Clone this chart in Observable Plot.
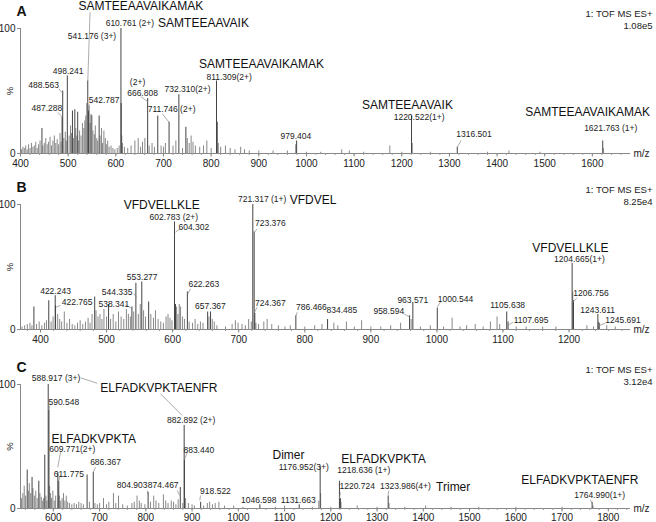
<!DOCTYPE html>
<html><head><meta charset="utf-8">
<script src="https://cdn.jsdelivr.net/npm/d3@7"></script>
<script src="https://cdn.jsdelivr.net/npm/@observablehq/plot@0.6"></script>
<style>
body{margin:0;background:#fff;}
#chart{width:656px;height:522px;position:relative;overflow:hidden;background:#fff}
#chart svg{display:block;overflow:visible}
</style></head><body><div id="chart"></div>
<script>
// ===== Panel A =====
const ticksA = [400,500,600,700,800,900,1000,1100,1200,1300,1400,1500,1600];
const peaksA = [[445,20],[487.288,29],[488.563,50],[498.241,62],[509,34],[514,35],[520,33],[541.176,58],[542.787,34],[548,31],[565,30],[610.761,100],[611.26,40],[666.808,44],[688,30],[711.746,25],[732.31,47],[747,21],[811.309,58],[812.8,25],[979.404,10],[1220.522,30],[1316.501,5],[1621.763,10]];
const minorA = [[402,3],[405,5],[408,4],[411,6],[414,3],[417,7],[420,4],[423,8],[426,5],[429,6],[432,9],[435,4],[438,7],[441,10],[447,6],[450,8],[453,12],[456,7],[459,9],[462,13],[465,6],[468,10],[471,14],[474,8],[477,11],[480,7],[483,16],[485,9],[491,12],[494,17],[496,10],[502,14],[505,22],[507,16],[511,12],[516,20],[518,14],[522,10],[524,18],[527,14],[530,24],[533,20],[535,26],[537,30],[539,40],[544,38],[546,24],[550,30],[552,18],[555,15],[557,22],[560,12],[562,10],[567,14],[570,20],[572,8],[575,18],[578,12],[580,7],[583,10],[586,5],[590,6],[594,4],[598,3],[603,4],[607,6],[612.5,14],[614,8],[618,5],[625,4],[632,6],[640,10],[647,12],[652,5],[656,9],[661,12],[670,6],[676,8],[681,5],[695,6],[700,5],[704,8],[720,6],[726,10],[740,4],[750,12],[754,8],[758,14],[762,9],[767,6],[776,5],[784,6],[791,10],[800,4],[815,8],[820,5],[830,6],[840,4],[850,3],[862,5],[870,3],[880,2],[900,2],[930,2],[960,2],[977.5,7],[1000,1],[1030,1],[1074,3],[1090,2],[1120,1],[1175,6],[1200,1],[1222,8],[1260,1],[1380,1],[1425,2],[1490,1],[1623,4]];
const peptideLabelsA = [["SAMTEEAAVAIKAMAK",652.6,117.6],["SAMTEEAAVAIK",784,104],["SAMTEEAAVAIKAMAK",905.8,71.7],["SAMTEEAAVAIK",1212,39],["SAMTEEAAVAIKAMAK",1590,33]];
const massLabelsA = [["541.176 (3+)",550,93.6],["610.761 (2+)",629.5,104],["498.241",500,65.9],["488.563",448.5,54.4],["487.288",455.4,36],["542.787",575.6,42.4],["(2+)",645.6,57],["666.808",656.1,48],["732.310(2+)",750.5,51],["711.746 (2+)",717,35],["811.309(2+)",837.8,61],["979.404",977.7,13.6],["1220.522(1+)",1236.4,29],["1316.501",1351.7,15.2],["1621.763 (1+)",1638.5,19.8]];
const leadersA = [[546,113,541.2,58],[480.5,51.8,489.6,47.8],[477.8,33,488.3,29],[544,39.5,542.8,34],[652.6,45.5,666.8,41.5],[697.9,31.7,711.7,25],[1324.5,10.4,1316.5,5]];

// ===== Panel B =====
const ticksB = [400,500,600,700,800,900,1000,1100,1200];
const peaksB = [[390,18],[412.5,23],[422.243,27],[422.765,19],[482,26],[503,20],[538.341,18],[544.335,37],[553.277,38],[563.7,22],[602.783,86],[604.302,20],[622.263,30],[653,14],[657.367,14],[721.317,100],[723.376,78],[724.367,13],[786.466,11],[834.485,8],[958.594,11],[963.571,21],[1000.544,17],[1105.638,14],[1107.695,6],[1204.665,53],[1206.756,23],[1243.611,12],[1245.691,5]];
const minorB = [[372,2],[376,3],[380,4],[384,5],[387,3],[394,4],[398,6],[402,3],[406,5],[409,7],[416,6],[419,10],[426,12],[429,8],[432,6],[436,14],[440,5],[444,8],[448,4],[452,3],[456,5],[460,7],[464,4],[468,6],[472,9],[475,5],[478,12],[484,15],[487,10],[490,12],[493,8],[496,16],[500,10],[506,8],[510,12],[514,6],[518,14],[522,10],[526,8],[530,16],[533,12],[536,10],[541,14],[548,12],[551,20],[556,15],[559,10],[567,12],[571,9],[574,15],[578,8],[582,6],[586,5],[590,10],[593,12],[596,9],[599,7],[606,18],[608,12],[610,20],[612,18],[615,10],[618,8],[625,6],[630,5],[634,8],[638,4],[642,6],[646,5],[655,10],[660,8],[663,6],[667,3],[680,2],[690,4],[695,7],[699,5],[705,4],[710,3],[715,8],[719,6],[726,5],[730,4],[738,6],[743,8],[750,4],[760,3],[770,2],[778,3],[800,2],[815,3],[826,4],[844,5],[850,3],[863,6],[875,2],[886,7],[900,2],[915,2],[930,3],[945,5],[961,8],[975,2],[990,3],[1010,2],[1023,9],[1035,2],[1045,3],[1058,4],[1070,2],[1081,6],[1091,10],[1095,4],[1120,2],[1135,2],[1160,2],[1180,2],[1205.6,30],[1227,3],[1237,2],[1244.5,6],[1257,3],[1270,2]];
const peptideLabelsB = [["VFDVELLKLE",583.5,99.2],["VFDVEL",812.6,103.8],["VFDVELLKLE",1202,65.4]];
const massLabelsB = [["602.783 (2+)",601.7,89.4],["604.302",632,81.9],["721.317 (1+)",735.5,103.8],["723.376",748,84.6],["553.277",553.9,41.9],["544.335",516,29.9],["422.243",422.7,30.6],["422.765",455.5,21.9],["538.341",510.9,20],["622.263",647.1,36.5],["657.367",657.2,18.4],["724.367",748,21],["786.466",810.1,17.8],["834.485",856.2,15.2],["958.594",927.1,14.4],["963.571",963.4,23.7],["1000.544",1028,24.5],["1105.638",1107.1,19.2],["1107.695",1142.5,7.7],["1204.665(1+)",1215.7,56],["1206.756",1233.3,29.3],["1243.611",1243.3,15.2],["1245.691",1281.7,7.2]];
const leadersB = [[612,80.8,604.3,77.9],[727.9,80.5,723.8,77.9],[541.5,28.6,545.5,25.5],[430.2,19.2,423.7,17.9],[528.6,19.8,538.7,16.6],[627,32.5,622.9,28.5],[727.9,17.8,723.8,13.8],[788.4,13.8,786.9,11.2],[950,12.6,959.1,9.8],[1005.3,21.9,1000.3,17.8],[1115.3,5.9,1107.2,3.2],[1212.1,25.4,1205.5,21.9],[1254.9,5,1245,3.2]];

// ===== Panel C =====
const ticksC = [600,700,800,900,1000,1100,1200,1300,1400,1500,1600,1700,1800];
const peaksC = [[543.5,31],[554,25],[568.6,22],[581.5,43],[588.917,100],[590.548,79],[609.771,29],[611.775,22],[673,27],[686.367,29],[804.903,13],[874.467,17],[882.892,67],[883.44,39],[918.522,5],[1046.598,3],[1131.663,3],[1176.952,34],[1218.636,22],[1220.724,8],[1323.986,10],[1764.99,5]];
const minorC = [[531,8],[534,12],[537,18],[540,10],[546,14],[548,20],[551,12],[556,16],[559,10],[562,14],[565,8],[571,12],[574,9],[577,6],[579,8],[584,10],[586,6],[592,18],[594,12],[596,8],[599,14],[602,6],[605,10],[613,10],[616,6],[619,8],[622,12],[625,6],[628,10],[631,5],[635,4],[640,3],[645,4],[650,3],[655,5],[660,4],[665,3],[678,5],[690,4],[695,3],[700,4],[708.5,8],[715,3],[720,5],[730,12],[735,4],[741,10],[750,3],[760,2],[770,4],[775,5],[781,10],[786,6],[790,4],[798,3],[810,5],[817,10],[822,6],[828,4],[838,11],[843,6],[848,4],[855,6],[860,5],[865,3],[870,7],[880,4],[886,8],[892,4],[900,3],[905,2],[925,2],[933,4],[938,5],[944,3],[950,4],[958,5],[970,2],[990,2],[1010,1],[1080,1],[1100,2],[1160,1],[1174,6],[1178,12],[1200,1],[1222,5],[1257,2],[1300,1],[1326,4],[1360,1],[1405,2],[1460,1],[1520,1],[1600,1],[1700,1],[1767,2]];
const peptideLabelsC = [["ELFADKVPKTAENFR",828,97.3],["ELFADKVPKTA",687.5,56.2],["Dimer",1108.5,43.2],["ELFADKVPKTA",1313.9,39.8],["Trimer",1464.6,17.2],["ELFADKVPKTAENFR",1738.3,22.6]];
const massLabelsC = [["588.917 (3+)",605.8,105.4],["590.548",622.6,85.7],["882.892 (2+)",898.1,71],["609.771(2+)",640.8,47.6],["611.775",633.5,28],["686.367",712.8,37.3],["883.440",914.5,47.3],["804.903",770.5,18.5],["874.467",837.6,18.5],["918.522",950.6,14],["1046.598",1044.3,7],["1131.663",1129.5,7],["1176.952(3+)",1141.6,33.2],["1218.636 (1+)",1271.3,31.2],["1220.724",1257,18],["1323.986(4+)",1361.4,18],["1764.990(1+)",1781.5,10.5]];
const leadersC = [[658.8,105.4,694.9,101],[831.7,92.5,878.6,75],[592.4,83,590.5,79],[615.5,45.4,609.7,33.3],[615.5,26.6,611.8,22.6],[691.2,33.3,686.2,29.3],[889.5,45.4,884.3,40],[803,14.5,805,10.5],[867.8,14.5,873.4,10.5],[918.2,10.5,916.7,6.5],[1220.8,13.1,1218.6,7.8],[1325.3,14.5,1324,10.5],[1761.4,7,1765.1,3.8]];

const panels = [
  {letter:"A", header:["1: TOF MS ES+","1.08e5"], domain:[400,1680], ticks:ticksA, peaks:peaksA, minor:minorA, big:peptideLabelsA, small:massLabelsA, leaders:leadersA, height:176, mt:28, mb:23, pad:3},
  {letter:"B", header:["1: TOF MS ES+","8.25e4"], domain:[369.7,1293], ticks:ticksB, peaks:peaksB, minor:minorB, big:peptideLabelsB, small:massLabelsB, leaders:leadersB, height:176, mt:28, mb:23, pad:3},
  {letter:"C", header:["1: TOF MS ES+","3.12e4"], domain:[529,1848], ticks:ticksC, peaks:peaksC, minor:minorC, big:peptideLabelsC, small:massLabelsC, leaders:leadersC, height:170, mt:32, mb:14, pad:2}
];

const FONT = '"Liberation Sans", Arial, Helvetica, sans-serif';
const root = document.getElementById("chart");

for (const p of panels) {
  const minorTicks = d3.range(Math.ceil(p.domain[0]/20)*20, p.domain[1], 20);
  const svg = Plot.plot({
    width: 656, height: p.height,
    marginLeft: 20, marginRight: 26, marginTop: p.mt, marginBottom: p.mb,
    x: {domain: p.domain, label: null},
    y: {domain: [0, 100], label: null},
    style: {fontFamily: FONT, background: "white", color: "#222"},
    marks: [
      Plot.ruleX(p.minor, {x: d => d[0], y1: 0, y2: d => d[1], stroke: "#6a6a6a", strokeWidth: 0.8}),
      Plot.ruleX(p.peaks, {x: d => d[0], y1: 0, y2: d => d[1], stroke: "#444", strokeWidth: 1}),
      Plot.ruleY([0], {stroke: "#888", strokeWidth: 1}),
      Plot.ruleX([p.domain[0]], {y1: 0, y2: 100, stroke: "#888", strokeWidth: 1}),
      Plot.axisX({ticks: minorTicks, tickSize: 2, tickFormat: () => "", stroke: "#999"}),
      Plot.axisX({ticks: p.ticks, tickSize: 3.5, tickPadding: p.pad, tickFormat: d => String(d), fontSize: 10, stroke: "#888", fill: "#222"}),
      Plot.axisY({ticks: [0, 100], tickSize: 3, tickPadding: 2, tickFormat: d => String(d), fontSize: 10, stroke: "#888", fill: "#222"}),
      Plot.link(p.leaders, {x1: d => d[0], y1: d => d[1], x2: d => d[2], y2: d => d[3], stroke: "#888", strokeWidth: 0.7}),
      Plot.text(p.small, {x: d => d[1], y: d => d[2], text: d => d[0], fontSize: 8.5, fill: "#222"}),
      Plot.text(p.big, {x: d => d[1], y: d => d[2], text: d => d[0], fontSize: 12, fill: "#111"}),
      Plot.text([p.header[0]], {frameAnchor: "top-right", dx: 22, dy: -15, textAnchor: "end", lineAnchor: "middle", fontSize: 9.5, fill: "#222"}),
      Plot.text([p.header[1]], {frameAnchor: "top-right", dx: 22, dy: -2.5, textAnchor: "end", lineAnchor: "middle", fontSize: 9.5, fill: "#222"}),
      Plot.text([p.letter], {frameAnchor: "top-left", dx: 1, dy: -16.5, textAnchor: "middle", lineAnchor: "middle", fontSize: 14, fontWeight: "bold", fill: "#111"}),
      Plot.text(["%"], {frameAnchor: "left", dx: -11, rotate: -90, textAnchor: "middle", lineAnchor: "middle", fontSize: 9.5, fill: "#222"}),
      Plot.text(["m/z"], {frameAnchor: "bottom-right", dx: 3, textAnchor: "start", lineAnchor: "middle", fontSize: 10, fill: "#222"})
    ]
  });
  root.appendChild(svg);
}
</script></body></html>
